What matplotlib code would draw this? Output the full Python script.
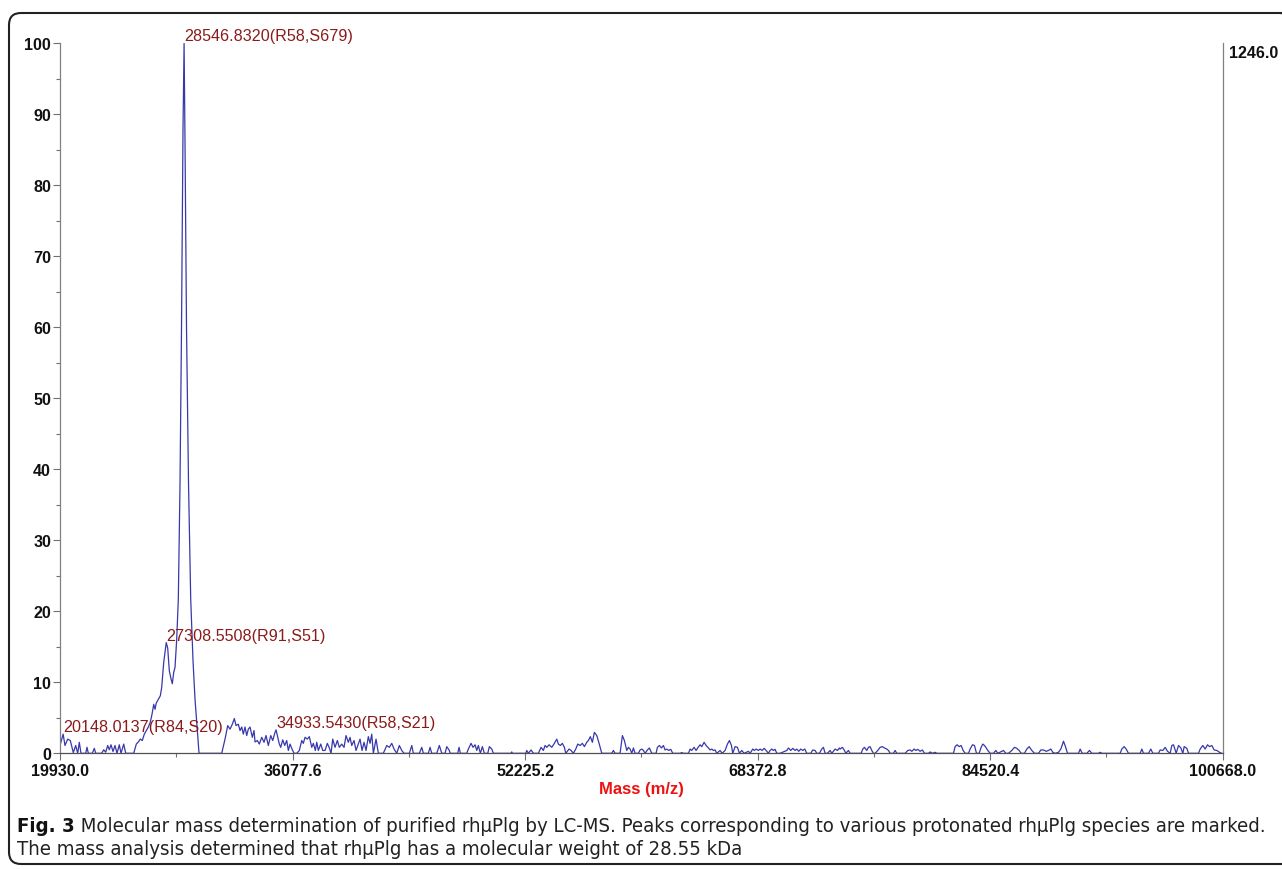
import matplotlib
matplotlib.use("Agg")
import matplotlib.pyplot as plt
from matplotlib.patches import FancyBboxPatch
from matplotlib.transforms import IdentityTransform, ScaledTranslation
from matplotlib.ticker import FixedLocator, FixedFormatter
from matplotlib.font_manager import FontProperties

# ---- deconvoluted LC-MS spectrum (mass in Da, relative intensity in %) ----
mass = [
    19930, 20148.0137, 20277, 20465, 20645, 20854, 21020, 21159, 21270, 21388,
    21715, 21805, 21895, 22173, 22312, 22409, 22826, 22965, 23104, 23243,
    23354, 23472, 23611, 23750, 23889, 24048, 24166, 24354, 24493, 25048,
    25229, 25368, 25507, 25646, 25785, 25923, 26062, 26201, 26319, 26437,
    26528, 26618, 26757, 26896, 26993, 27132, 27308.5508, 27410, 27521, 27639,
    27729, 27826, 27917, 28035, 28146, 28264, 28368, 28472, 28546.8320, 28611,
    28715, 28854, 29007, 29167, 29306, 29584, 31160, 31389, 31577, 31737,
    31896, 32035, 32153, 32313, 32431, 32549, 32660, 32778, 32896, 33007,
    33126, 33285, 33403, 33473, 33633, 33771, 33938, 34098, 34237, 34396,
    34563, 34702, 34862, 34933.5430, 35160, 35258, 35397, 35535, 35674, 35785,
    35904, 36042, 36181, 36369, 36549, 36716, 36827, 36945, 37105, 37244,
    37411, 37522, 37661, 37758, 37869, 38036, 38175, 38334, 38494, 38633,
    38751, 38869, 39029, 39188, 39327, 39494, 39654, 39793, 39952, 40071,
    40189, 40348, 40487, 40647, 40765, 40904, 41043, 41182, 41341, 41460,
    41578, 41689, 41876, 42036, 42383, 42619, 42800, 42967, 43126, 43314,
    43494, 43661, 43821, 44189, 44356, 44467, 44883, 45050, 45161, 45508,
    45627, 45745, 46092, 46272, 46439, 46668, 46786, 46967, 47016, 47550,
    47641, 47731, 48175, 48286, 48474, 48613, 48752, 48870, 48981, 49120,
    49259, 49398, 49634, 49745, 49912, 50023, 51252, 51301, 51342, 52273,
    52342, 52453, 52641, 52801, 53148, 53335, 53495, 53613, 53731, 53891,
    54079, 54259, 54426, 54537, 54676, 54815, 54954, 55051, 55280, 55419,
    55579, 55745, 55884, 56044, 56204, 56343, 56509, 56620, 56759, 56898,
    57037, 57204, 57364, 57551, 58246, 58357, 58475, 58822, 58982, 59121,
    59287, 59398, 59517, 59635, 59746, 59864, 60093, 60211, 60327, 60443,
    60558, 60720, 60859, 61021, 61322, 61415, 61554, 61693, 61832, 61947,
    62063, 62202, 62341, 62480, 62989, 63105, 63221, 63568, 63684, 63799,
    63961, 64100, 64239, 64378, 64494, 64656, 64795, 64957, 65073, 65188,
    65304, 65420, 65536, 65767, 65906, 66114, 66276, 66415, 66554, 66647,
    66809, 66971, 67110, 67272, 67434, 67735, 67851, 68036, 68151, 68267,
    68429, 68545, 68684, 68823, 68962, 69124, 69240, 69355, 69471, 69587,
    69703, 69934, 70397, 70513, 70675, 70814, 70976, 71092, 71230, 71369,
    71508, 71647, 71786, 72064, 72203, 72365, 72481, 72666, 72828, 72944,
    73059, 73221, 73407, 73522, 73754, 73916, 74055, 74101, 74263, 74402,
    74495, 74680, 74796, 75560, 75675, 75791, 75953, 76069, 76185, 76300,
    76416, 76532, 76717, 76879, 77041, 77180, 77342, 77458, 77574, 77805,
    77921, 78037, 78616, 78801, 78963, 79079, 79241, 79357, 79495, 79657,
    79819, 79958, 80236, 80352, 80514, 80699, 80815, 81972, 82088, 82227,
    82366, 82505, 82644, 82783, 83014, 83130, 83292, 83431, 83570, 83755,
    83894, 84009, 84125, 84218, 84357, 84519, 84750, 84912, 85051, 85445,
    85607, 85792, 86024, 86209, 86371, 86533, 86672, 86903, 87065, 87227,
    87413, 87598, 87876, 88038, 88223, 88408, 88570, 88732, 88871, 89033,
    89265, 89427, 89612, 89751, 89890, 90654, 90770, 90908, 91233, 91418,
    91580, 92043, 92159, 92274, 93548, 93663, 93825, 93964, 94126, 94937,
    95052, 95168, 95515, 95677, 95816, 96210, 96326, 96511, 96673, 96835,
    97020, 97136, 97252, 97437, 97599, 97761, 97900, 97993, 98178, 98293,
    98988, 99104, 99289, 99451, 99613, 99752, 99914, 100075, 100260, 100446,
    100608,
]

intensity = [
    1.1, 2.7, 1.1, 2.0, 1.8, 0.1, 1.1, 0.0, 1.55, 0.0,
    0.0, 0.85, 0.0, 0.0, 0.7, 0.0, 0.0, 0.5, 0.15, 1.1,
    0.5, 1.2, 0.25, 1.1, 0.0, 1.2, 0.0, 1.3, 0.0, 0.0,
    1.3, 1.6, 2.0, 1.8, 2.7, 3.2, 3.7, 4.4, 5.5, 6.9,
    6.2, 7.1, 7.6, 8.1, 9.3, 12.8, 15.6, 14.8, 11.6, 10.5,
    9.8, 11.4, 12.1, 16.1, 21.7, 38.0, 60.0, 88.0, 100.0, 86.0,
    60.0, 38.0, 21.7, 13.0, 7.6, 0.0, 0.0, 2.0, 3.9, 3.4,
    4.1, 4.9, 3.9, 4.1, 3.2, 3.7, 2.7, 3.7, 2.5, 3.4,
    3.7, 2.25, 3.2, 1.6, 1.8, 1.3, 2.25, 1.55, 2.5, 1.1,
    2.5, 1.8, 2.95, 3.3, 1.3, 0.84, 1.9, 1.1, 1.8, 0.4,
    1.3, 0.6, 0.0, 0.0, 0.4, 1.8, 1.4, 2.25, 2.0, 2.35,
    0.84, 1.4, 0.4, 1.55, 0.4, 1.3, 0.4, 0.4, 1.4, 0.75,
    0.0, 2.0, 0.84, 1.8, 0.84, 1.3, 0.84, 2.5, 1.55, 2.25,
    1.1, 1.8, 0.4, 1.3, 2.0, 0.4, 1.55, 0.4, 2.35, 1.4,
    2.7, 0.0, 2.0, 0.0, 0.0, 1.1, 0.84, 1.4, 0.6, 0.0,
    1.1, 0.4, 0.0, 0.0, 1.1, 0.0, 0.0, 0.84, 0.0, 0.0,
    0.84, 0.0, 0.0, 1.1, 0.0, 0.0, 0.94, 0.4, 0.0, 0.0,
    0.84, 0.0, 0.0, 0.6, 1.4, 0.84, 1.2, 0.4, 1.1, 0.0,
    0.94, 0.0, 0.0, 0.94, 0.6, 0.0, 0.0, 0.2, 0.0, 0.0,
    0.4, 0.0, 0.47, 0.0, 0.0, 0.84, 0.4, 1.1, 0.84, 1.2,
    0.84, 1.4, 2.0, 1.3, 1.1, 1.4, 0.84, 0.0, 0.6, 0.4,
    0.0, 0.6, 1.3, 1.1, 1.4, 0.94, 1.55, 1.8, 2.35, 1.55,
    2.95, 2.5, 1.4, 0.0, 0.0, 0.4, 0.0, 0.0, 2.5, 1.8,
    0.4, 0.84, 0.6, 0.0, 0.75, 0.0, 0.0, 0.47, 0.6, 0.4,
    0.0, 0.47, 0.75, 0.0, 0.0, 0.84, 1.1, 0.75, 1.1, 0.47,
    0.6, 0.4, 0.56, 0.0, 0.0, 0.1, 0.0, 0.0, 0.6, 0.4,
    0.84, 0.4, 0.84, 1.2, 0.94, 1.55, 1.1, 0.75, 0.47, 0.6,
    0.4, 0.47, 0.0, 0.4, 0.0, 0.4, 1.3, 1.8, 1.1, 0.0,
    0.94, 0.84, 0.0, 0.4, 0.0, 0.28, 0.0, 0.6, 0.4, 0.6,
    0.4, 0.6, 0.4, 0.7, 0.4, 0.0, 0.4, 0.6, 0.4, 0.56,
    0.0, 0.0, 0.4, 0.75, 0.4, 0.7, 0.4, 0.6, 0.28, 0.6,
    0.4, 0.6, 0.0, 0.0, 0.47, 0.4, 0.0, 0.0, 0.6, 0.84,
    0.0, 0.0, 0.4, 0.0, 0.6, 0.4, 0.75, 0.6, 0.84, 0.4,
    0.0, 0.4, 0.0, 0.0, 0.6, 0.84, 0.4, 0.84, 0.94, 0.4,
    0.0, 0.0, 0.4, 0.84, 0.94, 0.75, 0.6, 0.4, 0.0, 0.0,
    0.4, 0.0, 0.0, 0.4, 0.47, 0.28, 0.6, 0.4, 0.56, 0.28,
    0.47, 0.0, 0.0, 0.19, 0.0, 0.14, 0.0, 0.0, 0.94, 1.2,
    0.94, 1.1, 0.4, 0.0, 0.0, 0.6, 1.2, 1.1, 0.0, 0.0,
    0.84, 1.3, 1.1, 0.84, 0.4, 0.0, 0.0, 0.4, 0.0, 0.4,
    0.0, 0.0, 0.4, 0.84, 0.7, 0.4, 0.0, 0.0, 0.6, 0.94,
    0.4, 0.0, 0.0, 0.47, 0.47, 0.28, 0.4, 0.6, 0.14, 0.0,
    0.14, 0.6, 1.7, 0.94, 0.0, 0.0, 0.6, 0.0, 0.0, 0.4,
    0.0, 0.0, 0.14, 0.0, 0.0, 0.6, 0.94, 0.6, 0.0, 0.0,
    0.6, 0.0, 0.0, 0.6, 0.0, 0.0, 0.47, 0.4, 0.84, 0.28,
    0.0, 1.1, 1.2, 0.0, 1.1, 0.75, 0.0, 0.94, 0.7, 0.0,
    0.0, 0.6, 1.1, 0.6, 1.2, 0.94, 1.1, 0.47, 0.4, 0.14,
    0.0,
]

# ---- annotated peaks ----
peak_mass = [28546.8320, 27308.5508, 20148.0137, 34933.5430]
peak_intensity = [100.0, 15.6, 2.7, 3.3]
peak_tags = ["(R58,S679)", "(R91,S51)", "(R84,S20)", "(R58,S21)"]

# ---- axes ----
x_ticks = [19930.0, 36077.6, 52225.2, 68372.8, 84520.4, 100668.0]
y_ticks = [0, 10, 20, 30, 40, 50, 60, 70, 80, 90, 100]
y_minor = [5, 15, 25, 35, 45, 55, 65, 75, 85, 95]
max_count = 1246.0
x_title = "Mass (m/z)"

caption_bold = "Fig. 3"
caption_line1 = (" Molecular mass determination of purified rhμPlg by LC-MS. "
                 "Peaks corresponding to various protonated rhμPlg species are marked.")
caption_line2 = "The mass analysis determined that rhμPlg has a molecular weight of 28.55 kDa"

W, H = 1282, 870
fig = plt.figure(figsize=(W / 100, H / 100), dpi=100)
fig.patch.set_facecolor("white")

ax = fig.add_axes([60 / W, 1 - 754.3 / H, (1222.7 - 60) / W, (754.3 - 44.3) / H])
ax.plot(mass, intensity, color="#3838ac", lw=0.9, solid_joinstyle="round")
ax.set_xlim(x_ticks[0], x_ticks[-1])
ax.set_ylim(0, 100)

sans = ["Liberation Sans", "DejaVu Sans"]
tick_fp = FontProperties(family=sans, weight="bold", size=11.6)
ax.xaxis.set_major_locator(FixedLocator(x_ticks))
ax.xaxis.set_major_formatter(FixedFormatter([f"{v:.1f}" for v in x_ticks]))
x_minor = [(a + b) / 2 for a, b in zip(x_ticks[:-1], x_ticks[1:])]
ax.xaxis.set_minor_locator(FixedLocator(x_minor))
ax.yaxis.set_major_locator(FixedLocator(y_ticks))
ax.yaxis.set_major_formatter(FixedFormatter([str(v) for v in y_ticks]))
ax.yaxis.set_minor_locator(FixedLocator(y_minor))
for lab in ax.get_xticklabels() + ax.get_yticklabels():
    lab.set_fontproperties(tick_fp)
    lab.set_color("#111111")

ax.tick_params(which="major", length=5, width=0.8, color="#707070")
ax.tick_params(which="minor", length=3, width=0.8, color="#707070")
ax.tick_params(axis="x", pad=2)
ax.tick_params(axis="y", pad=1.5)

ax.spines["top"].set_visible(False)
for side in ("left", "right"):
    ax.spines[side].set_color("#808080")
    ax.spines[side].set_linewidth(0.9)
ax.spines["bottom"].set_color("#505050")
ax.spines["bottom"].set_linewidth(0.9)

# full-scale count next to the right frame
ax.text(1.0, 1.0, f"{max_count:.1f}", ha="left", va="top",
        transform=ax.transAxes + ScaledTranslation(6 / 100, -2 / 100, fig.dpi_scale_trans),
        fontproperties=tick_fp, color="#111111")
ax.text(0.5, -0.05, x_title, transform=ax.transAxes, ha="center", va="center",
        fontsize=12, fontweight="bold", family=sans, color="#ee1111")

# peak annotations
for m, v, tag in zip(peak_mass, peak_intensity, peak_tags):
    ax.annotate(f"{m:.4f}{tag}", xy=(m, v), xytext=(0, 0), textcoords="offset points",
                ha="left", va="bottom", fontsize=11.6, color="#8b1a1a", family=sans)

# caption, sized so the first line spans the frame width
cap_fp = dict(family=["DejaVu Sans", "Roboto"], stretch="condensed")
renderer = fig.canvas.get_renderer()
x0, y1, y2 = 17, 827, 850
fs = 12.0
t_bold = fig.text(x0 / W, 1 - y1 / H, caption_bold, ha="left", va="center",
                  fontsize=fs, fontweight="bold", color="#111111", **cap_fp)
t_rest = fig.text(0, 1 - y1 / H, caption_line1, ha="left", va="center",
                  fontsize=fs, color="#222222", **cap_fp)
target = 1262 - x0
for _ in range(4):
    wb = t_bold.get_window_extent(renderer).width
    wr = t_rest.get_window_extent(renderer).width
    fs *= target / (wb + wr)
    t_bold.set_fontsize(fs)
    t_rest.set_fontsize(fs)
wb = t_bold.get_window_extent(renderer).width
t_rest.set_x((x0 + wb) / W)
fig.text(x0 / W, 1 - y2 / H, caption_line2, ha="left", va="center",
         fontsize=fs, color="#222222", **cap_fp)

# rounded frame around the figure (right edge runs off the canvas)
frame = FancyBboxPatch((9, H - 865), 1285, 851, boxstyle="round,pad=0,rounding_size=12",
                       transform=IdentityTransform(), fill=False, edgecolor="#222222",
                       linewidth=1.5)
fig.add_artist(frame)

fig.savefig("out.png", dpi=100)
